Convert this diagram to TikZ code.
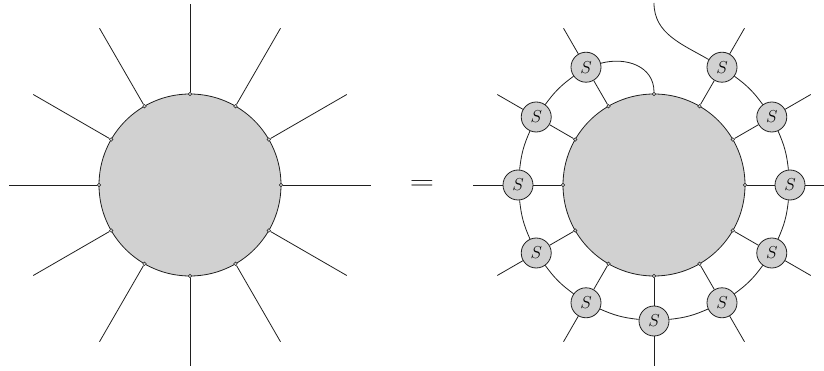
\documentclass[tikz,border=0pt]{standalone}
\usetikzlibrary{calc}
\begin{document}
\begin{tikzpicture}[x=1pt,y=-1pt,
  wire/.style={draw=black!88,line width=0.8pt},
  blob/.style={circle,draw=black!88,fill=black!18,line width=0.8pt,inner sep=0pt,minimum size=182pt},
  dot/.style={circle,draw=black!88,fill=black!18,line width=0.5pt,inner sep=0pt,minimum size=3.6pt},
  sbox/.style={circle,draw=black!88,fill=black!18,line width=0.8pt,inner sep=0pt,minimum size=30pt,font=\fontsize{16}{19}\selectfont}]
\useasboundingbox (0,0) rectangle (824,371);
% left side
\node[blob] (A) at (190,185) {};
\foreach \k in {0,...,11}{
  \pgfmathsetmacro\ang{\k*30}
  \node[dot] (L\k) at ($(190,185)+(\ang:91 and -91)$) {};
  \coordinate (Lo\k) at ($(190,185)+(\ang:181 and -181)$);
  \draw[wire] (L\k) -- (Lo\k);
}
% equals
\node[font=\fontsize{28}{30}\selectfont] (eq) at (422,185) {\scalebox{1.35}[1]{$=$}};
% right side
\node[blob] (B) at (654,185) {};
\foreach \k in {0,...,11}{
  \pgfmathsetmacro\ang{\k*30}
  \node[dot] (R\k) at ($(654,185)+(\ang:91 and -91)$) {};
}
\foreach \k in {0,1,2,4,5,6,7,8,9,10,11}{
  \pgfmathsetmacro\ang{\k*30}
  \coordinate (Ro\k) at ($(654,185)+(\ang:181 and -181)$);
  \node[sbox] (S\k) at ($(654,185)+(\ang:136 and -136)$) {$S$};
  \draw[wire] (R\k) -- (S\k);
  \draw[wire] (S\k) -- (Ro\k);
}
% ring
\foreach \a/\b in {4/5,5/6,6/7,7/8,8/9,9/10,10/11,11/0,0/1,1/2}{
  \draw[wire] (S\a) to[bend right=9] (S\b);
}
% top connections
\draw[wire] (S4) to[out=15,in=90,looseness=1.1] (R3);
\coordinate (T) at (654,3);
\draw[wire] (S2) to[out=150,in=-90,looseness=1] (T);
\end{tikzpicture}
\end{document}
